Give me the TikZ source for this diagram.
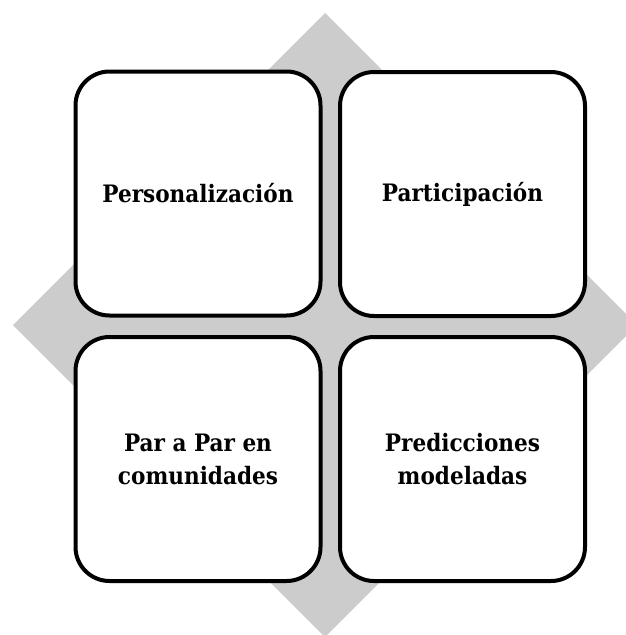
\documentclass[tikz,border=0pt]{standalone}
\usepackage{fontspec}
\setmainfont{DejaVu Serif Condensed}
\begin{document}
\begin{tikzpicture}[x=1pt,y=-1pt,
  quad/.style={draw=black, line width=4pt, fill=white, rounded corners=34pt,
    minimum width=245pt, minimum height=244pt, inner sep=0pt,
    align=center, font=\fontsize{24}{33}\selectfont\bfseries}]
\useasboundingbox (0,0) rectangle (625,635);
\fill[fill={rgb,255:red,204;green,204;blue,204}] (325,13) -- (637,325) -- (325,637) -- (13,325) -- cycle;
\node[quad] (tl) at (198,193.5) {Personalización};
\node[quad] (tr) at (462.5,194) {Participación};
\node[quad] (bl) at (198,459) {Par a Par en\\comunidades};
\node[quad] (br) at (462.5,459) {Predicciones\\modeladas};
\end{tikzpicture}
\end{document}
